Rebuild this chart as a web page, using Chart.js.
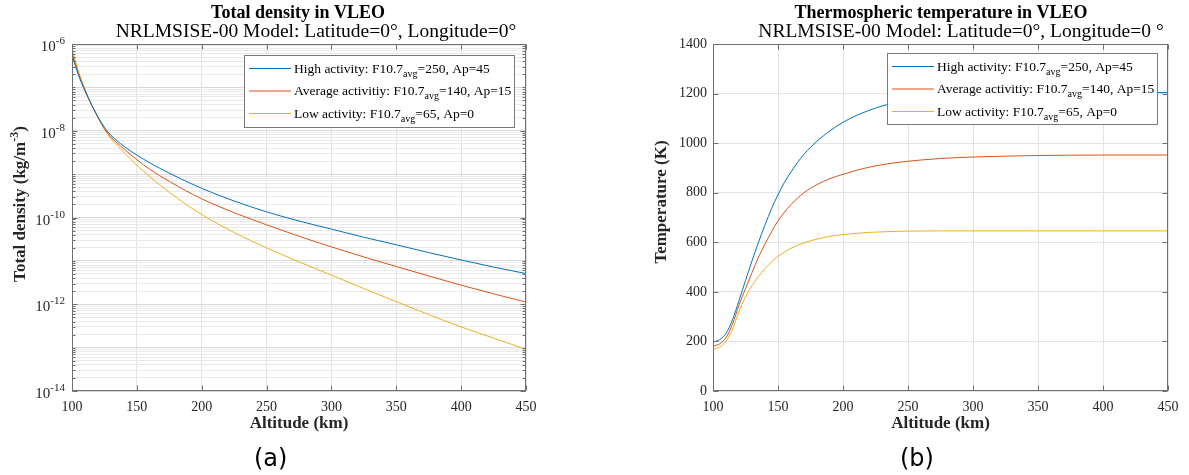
<!DOCTYPE html>
<html>
<head>
<meta charset="utf-8">
<script src="https://cdn.jsdelivr.net/npm/chart.js@4"></script>
<style>
  body { margin: 0; background: #fff; }
  #wrap { position: relative; width: 1189px; height: 475px; overflow: hidden; }
  canvas { position: absolute; top: 0; }
  #densityChart { left: 0; }
  #tempChart { left: 595px; }
  .tag { position: absolute; top: 444px; line-height: 28px; font-family: "DejaVu Sans", sans-serif; font-size: 24px; color: #000; }
</style>
</head>
<body>
<div id="wrap">
  <canvas id="densityChart" width="595" height="475"></canvas>
  <canvas id="tempChart" width="594" height="475"></canvas>
  <div class="tag" style="left:254px">(a)</div>
  <div class="tag" style="left:900px">(b)</div>
</div>
<script>
// --- data ---
const altDensity = [100, 105, 110, 115, 120, 125, 130, 140, 150, 160, 175, 200, 225, 250, 275, 300, 325, 350, 375, 400, 425, 450];
const rhoHigh = [5.6e-7, 1.9e-7, 8.3e-8, 4.0e-8, 2.1e-8, 1.2e-8, 7.9e-9, 4.4e-9, 2.75e-9, 1.82e-9, 1.05e-9, 4.7e-10, 2.4e-10, 1.35e-10, 8.3e-11, 5.4e-11, 3.5e-11, 2.35e-11, 1.55e-11, 1.05e-11, 7.2e-12, 5.1e-12];
const rhoAvg = [6.3e-7, 2.1e-7, 8.7e-8, 4.0e-8, 2.05e-8, 1.12e-8, 7.2e-9, 3.8e-9, 2.15e-9, 1.29e-9, 6.8e-10, 2.7e-10, 1.29e-10, 6.8e-11, 3.7e-11, 2.1e-11, 1.23e-11, 7.4e-12, 4.5e-12, 2.75e-12, 1.74e-12, 1.12e-12];
const rhoLow = [7.6e-7, 2.35e-7, 9.1e-8, 4.0e-8, 2.0e-8, 1.07e-8, 6.6e-9, 3.2e-9, 1.6e-9, 8.7e-10, 3.8e-10, 1.17e-10, 4.5e-11, 2.0e-11, 9.5e-12, 4.7e-12, 2.3e-12, 1.15e-12, 5.8e-13, 3.0e-13, 1.66e-13, 9.1e-14];

const altTemp = [100, 105, 110, 115, 120, 125, 130, 135, 140, 145, 150, 155, 160, 165, 170, 175, 180, 185, 190, 195, 200, 210, 220, 230, 240, 250, 275, 300, 350, 400, 450];
const tempHigh = [197, 207, 232, 288, 365, 446, 525, 600, 670, 735, 792, 842, 884, 922, 955, 983, 1008, 1030, 1050, 1068, 1084, 1111, 1132, 1150, 1163, 1173, 1189, 1197, 1202, 1204, 1204];
const tempAvg = [181, 190, 215, 270, 347, 413, 478, 540, 593, 642, 686, 722, 752, 778, 800, 818, 833, 846, 857, 866, 874, 890, 903, 913, 921, 927, 938, 944, 950, 952, 952];
const tempLow = [168, 177, 200, 250, 320, 380, 425, 462, 494, 521, 543, 561, 576, 588, 598, 606, 613, 619, 624, 628, 631, 636, 640, 642, 644, 645, 646, 646, 646, 646, 646];

const altTicks = [100, 150, 200, 250, 300, 350, 400, 450];
const densityTicks = [1e-6, 1e-8, 1e-10, 1e-12, 1e-14];
const tempTicks = [0, 200, 400, 600, 800, 1000, 1200, 1400];

const seriesLabels = ['High activity', 'Average activitiy', 'Low activity'];
const legendParts = [
	['High activity: F10.7', 'avg', '=250, Ap=45'],
	['Average activitiy: F10.7', 'avg', '=140, Ap=15'],
	['Low activity: F10.7', 'avg', '=65, Ap=0']
];
const seriesColors = ['#0072BD', '#D95319', '#EDB120'];

const serif = '"Liberation Serif", "DejaVu Serif", serif';
const axisInk = '#262626';

// minor log grid 1..9 x 10^e
const logGrid = [];
for (let e = -14; e < -6; e++) {
	for (let k = 1; k < 10; k++) logGrid.push(k * Math.pow(10, e));
}
logGrid.push(1e-6);

function isDecade(v) {
	const l = Math.log10(v);
	return Math.abs(l - Math.round(l)) < 1e-6;
}

function pairs(xs, ys) {
	return xs.map((v, i) => ({x: v, y: ys[i]}));
}

function font(size, bold) {
	return (bold ? 'bold ' : '') + size + 'px ' + serif;
}

// parts: [{t, size, bold, dy}]
function drawRich(ctx, parts, x, y, align) {
	ctx.textAlign = 'left';
	ctx.textBaseline = 'alphabetic';
	let w = 0;
	parts.forEach(p => { ctx.font = font(p.size, p.bold); w += ctx.measureText(p.t).width; });
	let cx = align === 'right' ? x - w : (align === 'center' ? x - w / 2 : x);
	parts.forEach(p => {
		ctx.font = font(p.size, p.bold);
		ctx.fillText(p.t, cx, y + (p.dy || 0));
		cx += ctx.measureText(p.t).width;
	});
}

const decor = {
	id: 'decor',
	afterDatasetsDraw(chart, args, o) {
		const {ctx, chartArea: a, scales: {x, y}} = chart;
		const L = Math.round(a.left) + 0.5, R = Math.round(a.right) - 0.5;
		const T = Math.round(a.top) + 0.5, B = Math.round(a.bottom) - 0.5;
		ctx.save();
		ctx.strokeStyle = '#707070';
		ctx.lineWidth = 1;
		ctx.beginPath();
		altTicks.forEach(v => {
			const px = Math.round(x.getPixelForValue(v)) + 0.5;
			ctx.moveTo(px, B); ctx.lineTo(px, B - 5);
			ctx.moveTo(px, T); ctx.lineTo(px, T + 5);
		});
		o.yTicks.forEach(v => {
			const py = Math.round(y.getPixelForValue(v)) + 0.5;
			ctx.moveTo(L, py); ctx.lineTo(L + 5, py);
			ctx.moveTo(R, py); ctx.lineTo(R - 5, py);
		});
		if (o.logMinor) {
			logGrid.forEach(v => {
				const py = Math.round(y.getPixelForValue(v)) + 0.5;
				ctx.moveTo(L, py); ctx.lineTo(L + 3, py);
				ctx.moveTo(R, py); ctx.lineTo(R - 3, py);
			});
		}
		ctx.stroke();
		ctx.strokeRect(L, T, R - L, B - T);
		ctx.restore();
	},
	afterDraw(chart, args, o) {
		const {ctx, chartArea: a, scales: {y}} = chart;
		ctx.save();
		ctx.fillStyle = '#000';
		drawRich(ctx, [{t: o.title, size: 18, bold: true}], o.titleX, 18, 'center');
		drawRich(ctx, [{t: o.subtitle, size: 19.5}], o.subX, 37, 'center');

		// y axis title (rotated)
		ctx.save();
		ctx.translate(o.yTitleX, o.yTitleY);
		ctx.rotate(-Math.PI / 2);
		ctx.fillStyle = axisInk;
		drawRich(ctx, o.yTitle, 0, 0, 'center');
		ctx.restore();

		// 10^n labels on log axis
		if (o.logMinor) {
			ctx.fillStyle = axisInk;
			densityTicks.forEach(v => {
				const py = y.getPixelForValue(v);
				drawRich(ctx, [{t: '10', size: 15}, {t: String(Math.round(Math.log10(v))), size: 11, dy: -7}], a.left - 7, py + 7, 'right');
			});
		}

		// legend
		const g = o.legend;
		ctx.fillStyle = '#fff';
		ctx.fillRect(g.left, g.top, g.width, g.height);
		ctx.strokeStyle = '#7a7a7a';
		ctx.lineWidth = 1;
		ctx.strokeRect(g.left + 0.5, g.top + 0.5, g.width, g.height);
		legendParts.forEach((parts, i) => {
			const ry = g.top + g.rows[i];
			ctx.strokeStyle = seriesColors[i];
			ctx.beginPath();
			ctx.moveTo(g.left + 5, ry);
			ctx.lineTo(g.left + 47, ry);
			ctx.stroke();
			ctx.fillStyle = '#000';
			drawRich(ctx, [
				{t: parts[0], size: 13.5},
				{t: parts[1], size: 10, dy: 4},
				{t: parts[2], size: 13.5}
			], g.left + 50, ry + 4, 'left');
		});
		ctx.restore();
	}
};

function xAxis() {
	return {
		type: 'linear',
		min: 100,
		max: 450,
		ticks: {stepSize: 50, padding: 8, color: axisInk, maxRotation: 0, font: {family: serif, size: 14}, callback: v => String(v)},
		grid: {color: '#e4e4e4', drawTicks: false},
		border: {display: false},
		title: {display: true, text: 'Altitude (km)', color: axisInk, padding: 0, font: {family: serif, size: 17, weight: 'bold'}},
		afterFit: s => { s.height = 43; }
	};
}

function lineSets(xs, series) {
	return series.map((ys, i) => ({
		label: seriesLabels[i],
		data: pairs(xs, ys),
		borderColor: seriesColors[i],
		borderWidth: 1,
		pointRadius: 0,
		fill: false,
		cubicInterpolationMode: 'monotone'
	}));
}

try {
	new Chart(document.getElementById('densityChart'), {
		type: 'line',
		data: {datasets: lineSets(altDensity, [rhoHigh, rhoAvg, rhoLow])},
		plugins: [decor],
		options: {
			responsive: false,
			animation: false,
			events: [],
			layout: {padding: {left: 0, right: 69, top: 44, bottom: 41}},
			scales: {
				x: xAxis(),
				y: {
					type: 'logarithmic',
					min: 1e-14,
					max: 1e-6,
					afterBuildTicks: s => { s.ticks = logGrid.map(v => ({value: v})); },
					ticks: {display: false},
					grid: {drawTicks: false, color: c => (c.tick && isDecade(c.tick.value)) ? '#d8d8d8' : '#eaeaea'},
					border: {display: false},
					afterFit: s => { s.width = 72; }
				}
			},
			plugins: {
				legend: {display: false},
				tooltip: {enabled: false},
				decor: {
					title: 'Total density in VLEO',
					titleX: 298,
					subtitle: 'NRLMSISE-00 Model: Latitude=0°, Longitude=0°',
					subX: 316,
					yTitle: [{t: 'Total density (kg/m', size: 17, bold: true}, {t: '-3', size: 12, bold: true, dy: -7}, {t: ')', size: 17, bold: true}],
					yTitleX: 25,
					yTitleY: 204,
					yTicks: densityTicks,
					logMinor: true,
					legend: {left: 244, top: 55, width: 270, height: 72, rows: [13.5, 36, 58.5]}
				}
			}
		}
	});

	new Chart(document.getElementById('tempChart'), {
		type: 'line',
		data: {datasets: lineSets(altTemp, [tempHigh, tempAvg, tempLow])},
		plugins: [decor],
		options: {
			responsive: false,
			animation: false,
			events: [],
			layout: {padding: {left: 0, right: 21, top: 44, bottom: 41}},
			scales: {
				x: xAxis(),
				y: {
					type: 'linear',
					min: 0,
					max: 1400,
					ticks: {stepSize: 200, padding: 6, color: axisInk, font: {family: serif, size: 14}, callback: v => String(v)},
					grid: {drawTicks: false, color: '#e4e4e4'},
					border: {display: false},
					afterFit: s => { s.width = 118; }
				}
			},
			plugins: {
				legend: {display: false},
				tooltip: {enabled: false},
				decor: {
					title: 'Thermospheric temperature in VLEO',
					titleX: 346,
					subtitle: 'NRLMSISE-00 Model: Latitude=0°, Longitude=0 °',
					subX: 366,
					yTitle: [{t: 'Temperature (K)', size: 17, bold: true}],
					yTitleX: 71,
					yTitleY: 202,
					yTicks: tempTicks,
					logMinor: false,
					legend: {left: 292, top: 53, width: 270, height: 71, rows: [13.5, 36, 58.5]}
				}
			}
		}
	});
} catch (error) {
	console.log(error);
}
</script>
</body>
</html>
